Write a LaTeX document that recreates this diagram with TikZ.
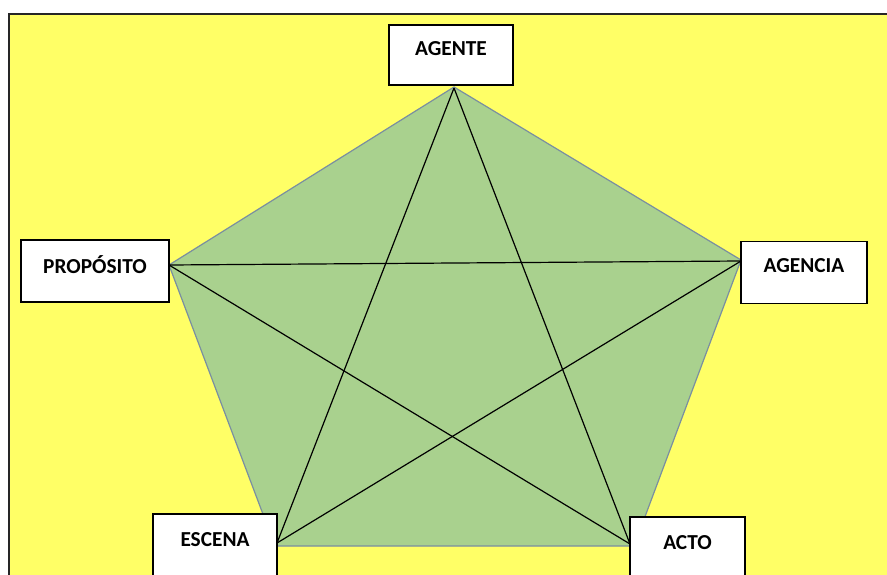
\documentclass[tikz,border=0pt]{standalone}
\usepackage{fontspec}
\setmainfont{Carlito}
\definecolor{bgyellow}{HTML}{FFFF66}
\definecolor{pentgreen}{HTML}{A9D18E}
\definecolor{pentedge}{HTML}{7A8FA0}
\begin{document}
\begin{tikzpicture}[x=0.75pt,y=-0.75pt,
  box/.style={draw=black,fill=white,line width=0.9pt,minimum width=#1,minimum height=62*0.75pt,inner sep=0pt},
  lbl/.style={font=\bfseries\fontsize{16}{18}\selectfont,inner sep=0pt},
  star/.style={draw=black,line width=0.9pt}]
\useasboundingbox (0,0) rectangle (887,574);
% yellow field
\fill[white] (0,0) rectangle (887,574);
\draw[fill=bgyellow,line width=1.6pt,draw=black!85] (9,14) rectangle (910,600);
% pentagon
\coordinate (pt) at (454,87);
\coordinate (pl) at (169,265);
\coordinate (pr) at (741,260);
\coordinate (pbl) at (275,546);
\coordinate (pbr) at (634,546);
\draw[fill=pentgreen,draw=pentedge,line width=0.9pt] (pt) -- (pr) -- (pbr) -- (pbl) -- (pl) -- cycle;
% boxes
\node[box=124*0.75pt,minimum height=60*0.75pt] (agente) at (451,55) {};
\node[lbl] (tagente) at (451,49) {AGENTE};
\node[box=148*0.75pt] (proposito) at (95,271) {};
\node[lbl] (tproposito) at (95,265) {PROPÓSITO};
\node[box=126*0.75pt] (agencia) at (804,272.5) {};
\node[lbl] (tagencia) at (804,266) {AGENCIA};
\node[box=124*0.75pt,minimum height=80*0.75pt] (escena) at (215,554) {};
\node[lbl] (tescena) at (215,540) {ESCENA};
\node[box=115*0.75pt,minimum height=80*0.75pt] (acto) at (687.5,557) {};
\node[lbl] (tacto) at (687.5,543) {ACTO};
% star
\coordinate (sa) at (454,88);
\coordinate (sp) at (169,265);
\coordinate (sg) at (741,261);
\coordinate (se) at (277,543);
\coordinate (sc) at (630,544);
\draw[star] (sa) -- (se);
\draw[star] (sa) -- (sc);
\draw[star] (sp) -- (sg);
\draw[star] (sp) -- (sc);
\draw[star] (sg) -- (se);
\end{tikzpicture}
\end{document}
